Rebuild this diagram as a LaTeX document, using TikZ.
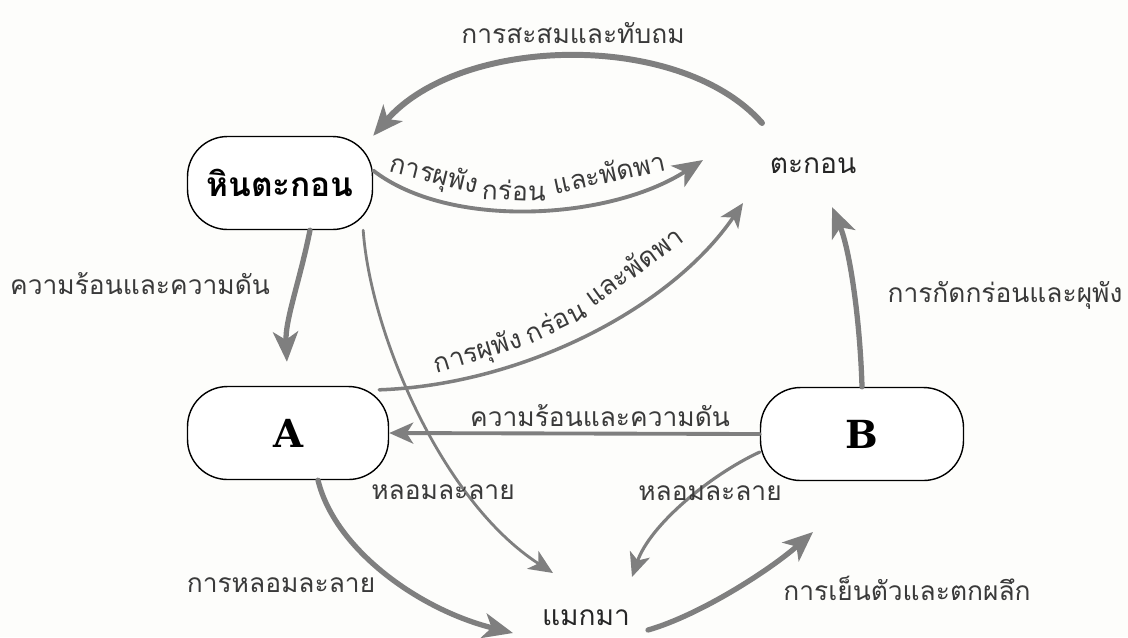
\documentclass[tikz,border=0pt]{standalone}
\usepackage{fontspec}
\usepackage{xcolor}
\usepackage{tikz}
\usetikzlibrary{arrows.meta}
\newfontfamily\thaifont[Script=Thai]{Loma}
\newfontfamily\capfont{DejaVu Serif}
\definecolor{flowGrey}{HTML}{7F7F7F}
\definecolor{textGrey}{HTML}{3A3A3A}
\definecolor{paper}{HTML}{FDFDFB}

\begin{document}
\begin{tikzpicture}[
  x=0.02cm, y=-0.02cm,
  every node/.style={font=\thaifont\fontsize{15}{18}\selectfont, inner sep=2pt},
  rock/.style={draw, line width=0.8pt, rounded corners=0.8cm,
               fill=white, text=black, minimum height=1.86cm},
  term/.style={text=black!85, font=\thaifont\fontsize{16}{19}\selectfont},
  lbl/.style={text=textGrey},
  flow/.style={-{Stealth[length=6mm, width=5mm, inset=1.6mm]},
               draw=flowGrey, line width=3pt, line cap=round},
  thinflow/.style={flow, line width=1.8pt,
               -{Stealth[length=4.8mm, width=4.2mm, inset=1.3mm]}},
]
% --- canvas -----------------------------------------------------------
\fill[paper] (0,0) rectangle (1128,637);
\useasboundingbox (0,0) rectangle (1128,637);

% --- the rocks and materials -------------------------------------------
\node[rock, minimum width=3.7cm,
      font=\thaifont\bfseries\fontsize{19}{22}\selectfont]
  (hin) at (280,183) {หินตะกอน};
\node[rock, minimum width=4.02cm,
      font=\capfont\bfseries\fontsize{22}{24}\selectfont]
  (a) at (288,433) {A};
\node[rock, minimum width=4.06cm,
      font=\capfont\bfseries\fontsize{22}{24}\selectfont]
  (b) at (862,434) {B};
\node[term] (sed)   at (813,166) {ตะกอน};
\node[term] (magma) at (586,618) {แมกมา};

% --- sediment back to sedimentary rock (top arch) ------------------------
\draw[flow, line width=3.4pt]
  ([shift={(-51,-43)}]sed.center) .. controls (680,30) and (460,35)
  .. (hin.north east);
\node[lbl] (lDeposit) at (573,33) {การสะสมและทับถม};

% --- weathering paths into sediment ---------------------------------------
\draw[flow, line width=2.2pt]
  ([yshift=2.5mm]hin.east) .. controls (450,230) and (610,220)
  .. ([shift={(-110,-6)}]sed.center);
\node[lbl, rotate=-14] (lWeather1a) at (434,176) {การผุพัง};
\node[lbl, rotate=-2]  (lWeather1b) at (514,190) {กร่อน};
\node[lbl, rotate=12]  (lWeather1c) at (609,172) {และพัดพา};

\draw[thinflow, line width=2pt]
  ([shift={(-10,4)}]a.north east) .. controls (520,385) and (670,310)
  .. ([shift={(-70,37)}]sed.center);
\node[lbl, rotate=17] (lWeather2a) at (478,353) {การผุพัง};
\node[lbl, rotate=26] (lWeather2b) at (555,321) {กร่อน};
\node[lbl, rotate=36] (lWeather2c) at (633,266) {และพัดพา};

\draw[flow]
  (b.north) .. controls (860,320) and (850,250)
  .. ([shift={(19,41)}]sed.center);
\node[lbl] (lErode) at (1005,295) {การกัดกร่อนและผุพัง};

% --- heat and pressure -------------------------------------------------------
\draw[flow, shorten >=4.8mm]
  ([xshift=6mm]hin.south) .. controls (300,280) and (285,320) .. (a.north);
\node[lbl] (lHeat1) at (140,284) {ความร้อนและความดัน};

\draw[thinflow, line width=2.2pt] (b.west) -- (a.east);
\node[lbl] (lHeat2) at (600,416) {ความร้อนและความดัน};

% --- melting down to magma ---------------------------------------------------
\draw[thinflow, line width=1.6pt]
  ([xshift=-2mm]hin.south east) .. controls (370,330) and (440,500)
  .. ([shift={(-33,-45)}]magma.center);
\node[lbl] (lMelt1) at (443,492) {หลอมละลาย};

\draw[thinflow]
  ([yshift=-3.6mm]b.west) .. controls (710,475) and (650,525)
  .. ([shift={(46,-41)}]magma.center);
\node[lbl] (lMelt2) at (710,493) {หลอมละลาย};

\draw[flow]
  ([xshift=6mm]a.south) .. controls (335,550) and (420,610)
  .. ([shift={(-73,15)}]magma.center);
\node[lbl] (lMelt3) at (281,585) {การหลอมละลาย};

% --- cooling back up to B ----------------------------------------------------
\draw[flow]
  ([shift={(62,12)}]magma.center) .. controls (700,615) and (770,570)
  .. ([shift={(-49,98)}]b.center);
\node[lbl] (lCool) at (907,588) {การเย็นตัวและตกผลึก};
\end{tikzpicture}
\end{document}
